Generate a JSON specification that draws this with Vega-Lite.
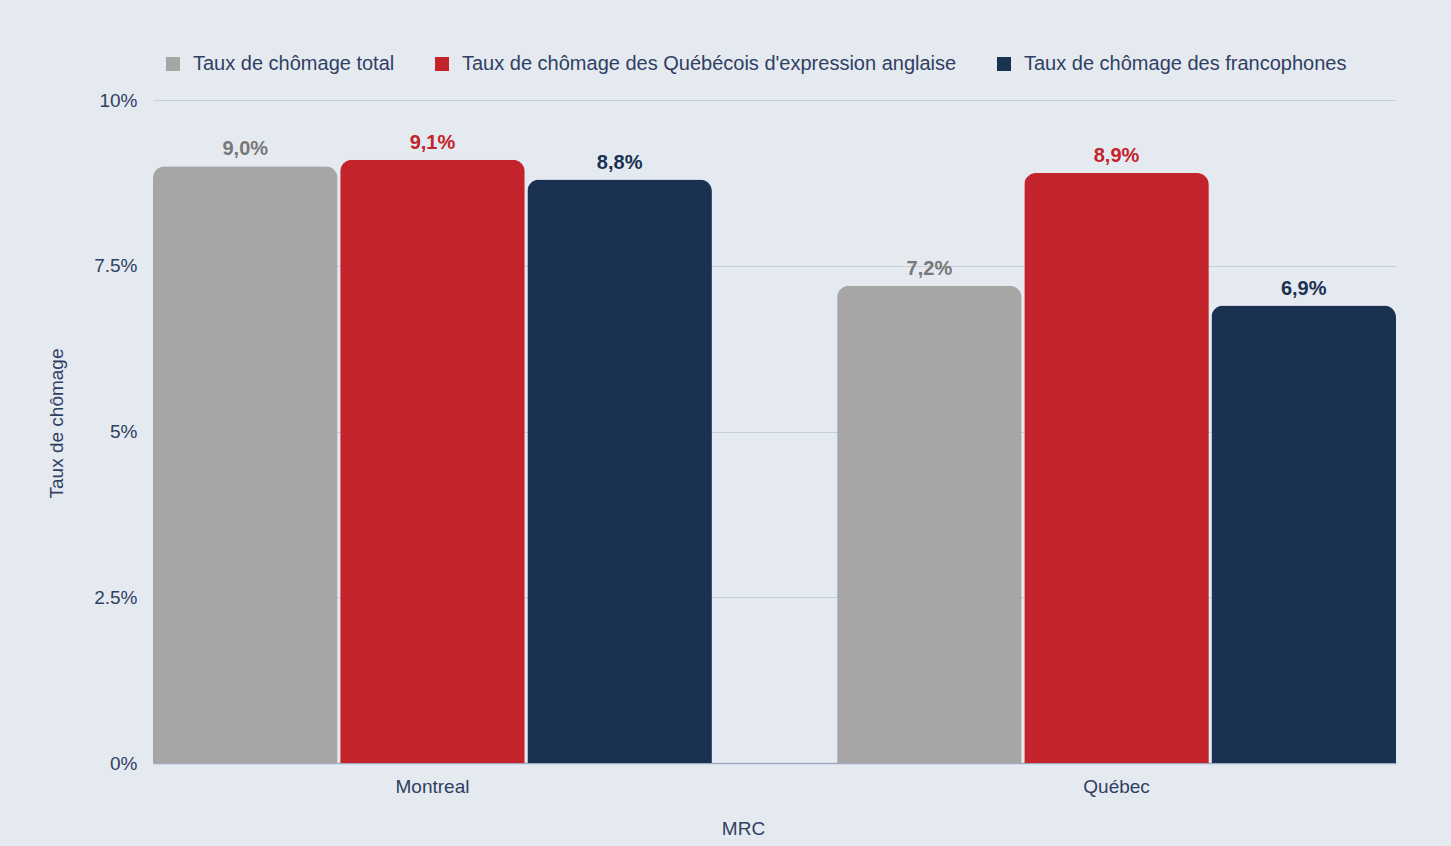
{
  "$schema": "https://vega.github.io/schema/vega-lite/v6.json",
  "width": 1243,
  "height": 663,
  "autosize": {"type": "none"},
  "padding": {"left": 153, "top": 100, "right": 55, "bottom": 83},
  "background": "#e5eaf0",
  "config": {"view": {"stroke": null}, "font": "Liberation Sans"},
  "data": {
    "values": [
      {"mrc": "Montreal", "serie": "Taux de chômage total", "taux": 0.090},
      {"mrc": "Montreal", "serie": "Taux de chômage des Québécois d'expression anglaise", "taux": 0.091},
      {"mrc": "Montreal", "serie": "Taux de chômage des francophones", "taux": 0.088},
      {"mrc": "Québec", "serie": "Taux de chômage total", "taux": 0.072},
      {"mrc": "Québec", "serie": "Taux de chômage des Québécois d'expression anglaise", "taux": 0.089},
      {"mrc": "Québec", "serie": "Taux de chômage des francophones", "taux": 0.069}
    ]
  },
  "transform": [
    {"calculate": "replace(format(datum.taux, '.1%'), '.', ',')", "as": "label"}
  ],
  "encoding": {
    "x": {
      "field": "mrc",
      "type": "nominal",
      "sort": ["Montreal", "Québec"],
      "scale": {"paddingInner": 0.183, "paddingOuter": 0},
      "axis": {
        "labelAngle": 0,
        "labelFontSize": 19,
        "labelColor": "#2f4063",
        "labelPadding": 14,
        "ticks": false,
        "domainColor": "#9eabbd",
        "domainWidth": 1.5,
        "title": "MRC",
        "titleFontSize": 19,
        "titleFontWeight": "normal",
        "titleColor": "#2f4063",
        "titlePadding": 23,
        "titleX": 590
      }
    },
    "xOffset": {
      "field": "serie",
      "type": "nominal",
      "sort": ["Taux de chômage total", "Taux de chômage des Québécois d'expression anglaise", "Taux de chômage des francophones"],
      "scale": {"paddingInner": 0.014, "paddingOuter": 0}
    },
    "y": {
      "field": "taux",
      "type": "quantitative",
      "scale": {"domain": [0, 0.1]},
      "axis": {
        "values": [0, 0.025, 0.05, 0.075, 0.1],
        "format": ".1~%",
        "grid": true,
        "gridColor": "#c6ceda",
        "gridWidth": 1,
        "domain": false,
        "ticks": false,
        "labelPadding": 16,
        "labelFontSize": 19,
        "labelColor": "#2f4063",
        "title": "Taux de chômage",
        "titleFontSize": 19,
        "titleFontWeight": "normal",
        "titleColor": "#2f4063",
        "titlePadding": 27,
        "titleY": 323
      }
    }
  },
  "layer": [
    {
      "mark": {"type": "bar", "cornerRadiusTopLeft": 12, "cornerRadiusTopRight": 12},
      "encoding": {
        "color": {
          "field": "serie",
          "type": "nominal",
          "scale": {
            "domain": ["Taux de chômage total", "Taux de chômage des Québécois d'expression anglaise", "Taux de chômage des francophones"],
            "range": ["#a6a6a6", "#c3232a", "#1a3152"]
          },
          "legend": {
            "orient": "none",
            "legendX": 10,
            "legendY": -46,
            "direction": "horizontal",
            "title": null,
            "symbolType": "square",
            "symbolSize": 196,
            "symbolStrokeWidth": 0,
            "labelFontSize": 20,
            "labelColor": "#2f4063",
            "labelOffset": 10,
            "columnPadding": 37,
            "labelLimit": 1000
          }
        }
      }
    },
    {
      "mark": {"type": "text", "baseline": "bottom", "dy": -7, "fontSize": 20, "fontWeight": "bold"},
      "encoding": {
        "text": {"field": "label"},
        "color": {
          "field": "serie",
          "type": "nominal",
          "scale": {
            "domain": ["Taux de chômage total", "Taux de chômage des Québécois d'expression anglaise", "Taux de chômage des francophones"],
            "range": ["#787878", "#c3232a", "#1a3152"]
          },
          "legend": null
        }
      }
    }
  ],
  "resolve": {"scale": {"color": "independent"}}
}
